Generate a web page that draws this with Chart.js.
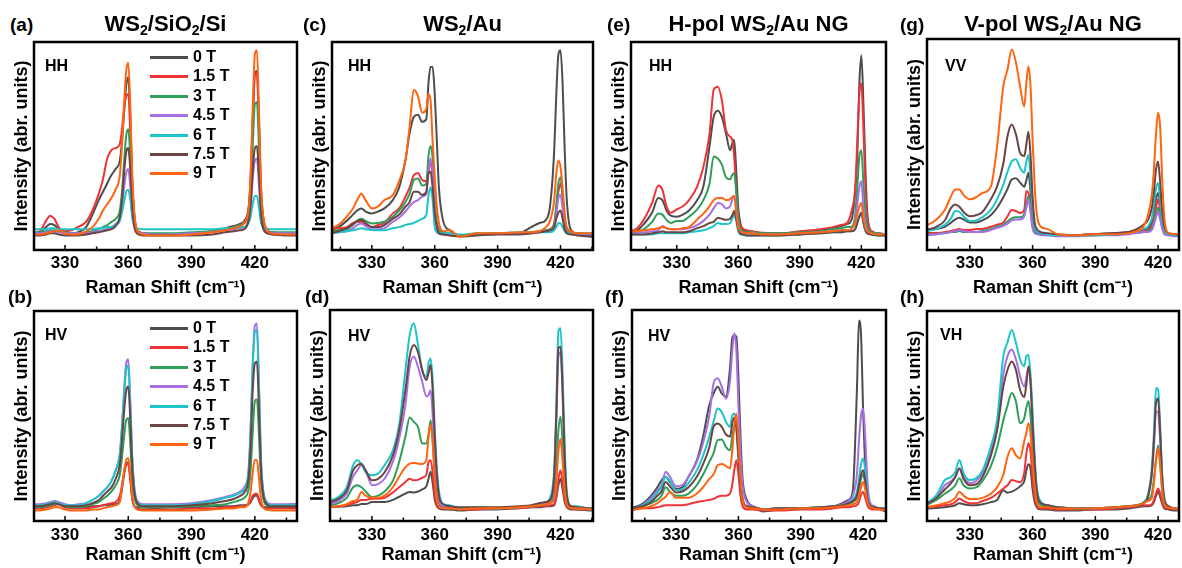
<!DOCTYPE html>
<html>
<head>
<meta charset="utf-8">
<script src="https://cdn.jsdelivr.net/npm/chart.js@4.4.1/dist/chart.umd.min.js"></script>
<style>
  body { margin: 0; width: 1182px; height: 568px; position: relative; overflow: hidden; background: #fff;
         font-family: 'Liberation Sans', Arial, sans-serif; font-weight: bold; color: #000; }
  .abs { position: absolute; white-space: nowrap; }
  .title { font-size: 22px; line-height: 22px; transform: translateX(-50%); }
  .title sub { font-size: 14px; vertical-align: -4px; line-height: 0; }
  .tag { font-size: 19px; line-height: 19px; }
  .pol { font-size: 16px; line-height: 16px; }
  .leg { position: absolute; height: 20px; display: flex; align-items: center; font-size: 16px; line-height: 20px; }
  .leg span { display: inline-block; width: 38px; height: 3px; margin-right: 5px; }
</style>
</head>
<body>
<script>
// Raman shift grid (cm-1) shared by every spectrum
const ramanShift = [306, 310, 314, 318, 321, 323, 325, 327, 330, 333,
  336, 340, 343, 346, 348, 350, 352, 354, 356, 357, 358,
  359, 360, 361, 362, 364, 367, 372, 380, 390, 400, 406,
  410, 413, 415, 417, 418, 419, 420, 421, 422, 423, 425, 428, 435, 444];

const fields = ['0 T', '1.5 T', '3 T', '4.5 T', '6 T', '7.5 T', '9 T'];
const fieldColors = ['#4d4d4d', '#ee3338', '#2f9e5a', '#a66fe6', '#1dc5c8', '#6b4444', '#ff6410'];
const shiftTicks = [330, 360, 390, 420];

// intensities (abr. units), one row per field, order as in `fields`
const siHH = [
  [8, 8, 8, 8.5, 11, 12.5, 12, 10, 8.5, 8, 8.5, 11, 17, 24, 28, 32, 36, 39, 43, 52, 66, 79, 83, 62, 30, 10, 8, 7.5, 7.5, 8, 9, 10.5, 11.5, 12.5, 14, 20, 34, 62, 85, 86, 60, 28, 11, 8.5, 8, 8],
  [8, 8, 8, 9, 14, 16.5, 15, 11, 9, 9.5, 11, 13.5, 19, 27, 34, 44, 48, 49, 51, 58, 68, 74, 75, 55, 28, 10, 8, 7.5, 7.5, 8, 9, 10, 11, 12, 13.5, 19, 32, 60, 84, 85, 58, 26, 11, 8.5, 8, 8],
  [8.5, 8.5, 8.5, 8.5, 9, 9.5, 9.5, 9, 8.5, 8, 8, 8.5, 9, 10, 11, 12, 13.5, 15, 19, 28, 42, 55, 58, 44, 22, 9, 8, 8, 8, 8.5, 9, 10, 11, 12, 13, 17, 27, 50, 70, 71, 48, 22, 10, 8.5, 8.5, 8.5],
  [8, 8, 8, 8, 8.5, 9, 9, 8.5, 8, 8, 8, 8, 8.5, 9, 9.5, 10, 11, 12.5, 15, 21, 30, 37, 39, 30, 16, 8.5, 8, 7.5, 7.5, 8, 8.5, 9.5, 10, 10.5, 11, 14, 20, 34, 43, 44, 31, 15, 9, 8, 8, 8],
  [10, 10, 10, 10, 10, 10.5, 10.5, 10, 10, 10, 10, 10, 10, 10.5, 10.5, 11, 11, 12, 14, 18, 23, 28, 29, 24, 15, 10.5, 10, 10, 10, 10, 10, 10.5, 10.5, 11, 11, 13, 16, 22, 26, 26, 20, 13, 10.5, 10, 10, 10],
  [7, 7, 7, 7, 7.5, 8, 8, 7.5, 7, 7, 7, 7.5, 8, 8.5, 9, 9.5, 10, 11.5, 16, 24, 37, 47, 49, 38, 19, 8, 7, 7, 7, 7, 7.5, 8.5, 9, 9.5, 10, 14, 22, 38, 49, 50, 35, 17, 8.5, 7.5, 7, 7],
  [7.5, 7.5, 7.5, 7.5, 8, 8.5, 9, 9.5, 8, 7.5, 7.5, 9, 11, 15, 19, 22, 25, 29, 36, 50, 70, 86, 90, 68, 33, 10, 7.5, 7, 7, 7.5, 8.5, 9.5, 10.5, 11.5, 13, 19, 36, 68, 94, 96, 66, 30, 11, 8, 7.5, 7.5]
];
const siHV = [
  [6.5, 6.5, 6.5, 6.5, 7, 7.5, 8, 8.5, 7, 6.5, 6.5, 6.5, 7, 7, 7.5, 7.5, 8, 8, 10, 15, 22, 27, 28, 20, 10, 6.5, 6.5, 6, 6.5, 6.5, 7, 7, 7, 7.5, 7.5, 8, 9, 11, 12, 12, 9.5, 7.5, 6.5, 6.5, 6.5, 6.5],
  [6, 6, 6, 6, 6.5, 7, 7.5, 8, 6.5, 6, 6, 6, 6.5, 7, 7.5, 8, 8.5, 9, 12, 17, 23, 27, 27, 19, 10, 6, 5.5, 5.5, 5.5, 6, 6, 6.5, 6.5, 7, 7, 8, 9.5, 12, 13, 13, 10, 7.5, 6, 6, 6, 6],
  [6.5, 6.5, 6.5, 6.5, 7, 7.5, 8, 8.5, 7, 6.5, 6.5, 7, 8, 9, 10.5, 12, 14, 17, 22, 30, 40, 48, 49, 36, 18, 8, 6.5, 6.5, 6.5, 7, 7.5, 8, 9, 10, 11, 15, 24, 42, 57, 58, 40, 19, 8, 7, 7, 7.5],
  [8, 8, 8, 8, 8.5, 9, 9.5, 9, 8, 7.5, 8, 8.5, 10, 12, 14, 16, 19, 24, 32, 45, 62, 75, 77, 56, 28, 10, 8, 8, 8, 8.5, 10, 11.5, 12.5, 14, 16, 24, 44, 75, 93, 94, 64, 28, 10, 8, 8, 8.5],
  [7.5, 7.5, 7.5, 7.5, 8, 8.5, 9, 8.5, 7.5, 7.5, 7.5, 8.5, 10, 12, 14, 16, 19, 24, 32, 44, 60, 72, 74, 54, 27, 9.5, 7.5, 7.5, 7.5, 8, 9.5, 11, 12, 13.5, 15, 23, 42, 73, 90, 91, 62, 27, 9.5, 7.5, 7.5, 8],
  [7, 7, 7, 7, 7.5, 8, 8.5, 8, 7, 7, 7, 7.5, 8.5, 10, 12, 14, 16, 20, 27, 38, 52, 62, 64, 47, 23, 9, 7, 7, 7, 7.5, 8.5, 9.5, 10.5, 12, 13.5, 20, 36, 62, 75, 76, 52, 23, 9, 7, 7, 7],
  [5, 5, 5, 5, 5.5, 6, 6.5, 6.5, 5.5, 5, 5, 5, 5.5, 5.5, 6, 6.5, 7, 7.5, 9, 16, 24, 29, 30, 22, 11, 5.5, 5, 5, 5, 5, 5.5, 6, 6, 6.5, 6.5, 9, 14, 23, 29, 29, 20, 10, 5.5, 5, 5, 5]
];
const auHH = [
  [9, 9.6, 11, 14, 17, 19, 20, 18.5, 17.6, 18.5, 20, 24, 30, 43, 56, 64, 65, 61.6, 63, 80, 88, 88, 75, 53, 30, 14, 9.6, 7, 7.5, 8, 8, 11, 13, 14.4, 21, 48, 75, 94, 96, 80, 48, 24, 9.6, 8, 6.4, 6],
  [9, 9.6, 10.5, 11, 13, 13.5, 13.6, 12.5, 11, 12, 13, 17.6, 20, 25.6, 30, 36, 37, 33.6, 33, 37, 43, 35, 21, 13, 10, 8.5, 8, 7, 7.5, 8, 8, 8.5, 9, 9.5, 10, 13, 20, 28, 32, 26, 15, 10, 8.5, 8, 7.5, 7.5],
  [8.5, 8.8, 9.5, 10, 12, 14, 15, 14, 12.8, 13, 13.6, 16, 19, 23, 27, 33.6, 34.4, 31, 32, 45, 50, 44, 24, 13, 9.5, 8, 7.5, 7, 7.5, 8, 8, 8.5, 9, 9.5, 10, 12, 22, 32, 35, 26, 14, 9, 8, 7.5, 7.5, 7.5],
  [7.5, 8, 8.5, 9, 10.5, 12, 12.8, 11.5, 10, 10, 10.5, 13.6, 15.5, 18.5, 21, 23, 24, 25.6, 27, 38, 44, 37, 20, 11, 8, 7.5, 7.5, 7, 7.5, 8, 8, 8, 8.5, 9, 9.5, 11, 17, 25, 26.4, 20, 11, 8.5, 8, 7.5, 7.5, 7.5],
  [7.5, 8, 8.5, 9, 9.5, 10, 10.4, 10, 9.6, 9.5, 9.5, 10.5, 11, 12, 12.5, 13, 14, 15, 17, 26, 30, 24, 11, 8.5, 8, 8, 8, 7.5, 8, 8, 8.5, 8.5, 8.5, 8.5, 8.5, 9.5, 11, 13, 12.8, 11, 9, 8, 8, 8, 8, 8],
  [7.5, 8, 9, 10.5, 12.5, 14, 14.4, 13, 11, 11, 12, 15, 17, 20.8, 23, 28, 28, 26.4, 28, 37, 37.6, 30, 17.6, 11, 8, 7.5, 7, 6.5, 7, 7.5, 7.5, 8, 8.5, 9, 9.5, 11, 15, 18, 19, 15, 10, 8, 7.5, 7, 6.5, 6.5],
  [9.5, 10.4, 12, 16, 20, 24, 27, 24, 20, 21, 24, 26.4, 33, 43, 59, 77, 74, 66, 68, 75, 72, 52, 35, 21, 13, 9, 9.6, 6.4, 8, 8, 8.5, 8.5, 9, 11, 14, 24, 37, 43, 40, 30, 17.6, 11, 9, 8, 8, 8]
];
const auHV = [
  [6, 6.6, 6.8, 7, 7.5, 7.5, 8, 8, 9, 9, 9, 10, 11.5, 13, 13.8, 13.5, 14, 15, 16.5, 20, 23.3, 18, 10, 7, 6, 5.5, 5.5, 5, 5.5, 5.5, 6, 6.5, 6.5, 7, 7, 7.5, 11, 17, 20, 15, 9, 6.5, 5.5, 5.5, 5, 5],
  [6, 6.6, 7, 7.5, 8.5, 9, 10, 10, 10.6, 10.5, 11, 13.5, 16, 18.5, 20, 19.3, 19.5, 20.5, 22, 28, 28.8, 23, 12, 7.5, 6.5, 6, 6, 5.5, 5.5, 6, 6, 6.5, 7, 7, 7.5, 8, 12, 20, 24, 18, 10, 7, 6, 5.5, 5.5, 5.5],
  [7, 7.4, 8.5, 11, 16, 17, 16, 14, 11.4, 12, 14, 19, 28, 40, 49, 47, 44.6, 36.7, 36.7, 41, 47.8, 38, 22, 12, 8, 6.5, 6.5, 6, 6.5, 6, 6.5, 7, 7.5, 8, 9, 12, 25, 43, 49.4, 37, 18, 9, 6.5, 6, 5.5, 5.5],
  [7.5, 8, 9.5, 13, 21, 24, 26.4, 24, 17, 17.5, 20, 28, 39, 55, 73, 78, 73, 66, 59, 59.7, 62, 50, 30, 17, 10, 7, 6.5, 6, 6, 6, 6.5, 7, 8, 8.5, 9.5, 20, 48, 78, 80, 60, 28, 11, 6.5, 6, 5.5, 5.5],
  [9, 9.8, 11.4, 16, 26.4, 28.8, 27, 23, 21.7, 22.5, 26.4, 33.5, 45.4, 71.5, 88, 93.7, 83.4, 71.5, 68.4, 74.7, 77, 66.8, 43, 25, 14, 8, 7.5, 6, 6.5, 6, 6.5, 7, 8, 9, 11, 25, 55, 89.7, 91.3, 70, 35, 14, 7, 7, 5.5, 5.5],
  [8, 9, 10.5, 14.5, 24, 26.4, 27, 24, 19.3, 20, 23, 31, 43, 62, 78, 83.4, 80, 71.5, 66.8, 70, 74, 62, 40, 22, 12, 8, 7, 6.5, 6.5, 6.5, 7, 7.5, 8.5, 9, 10, 22, 50, 82, 82.6, 62, 30, 12, 7, 6.5, 6, 6],
  [6, 6.6, 7, 8, 9.5, 10, 13.8, 12, 11, 11, 12, 16, 21, 25.5, 27.2, 27.5, 27.2, 27, 29, 40, 46, 37, 20, 10, 7, 6, 6, 5.5, 6, 6, 6.5, 7, 7.5, 8, 8.5, 10, 18, 33, 39, 28, 14, 8, 6, 6, 5.5, 5.5]
];
const hpolHH = [
  [8.5, 9, 12.5, 18, 25, 24, 19, 16.5, 16, 17, 19, 24, 30.6, 50, 64, 67, 64, 56, 48, 51, 53, 38, 20, 13, 10, 9, 8.5, 8, 8, 8.5, 9.5, 10.5, 11.5, 12.5, 14, 28, 45, 80, 93.6, 70, 38, 16, 9, 8, 7, 7],
  [9, 10, 14.7, 22.6, 31, 29, 21, 17.9, 19.5, 21, 24, 30.6, 40, 56, 77, 78.5, 72, 57.7, 54.5, 53, 45, 29, 16, 12, 10.5, 9.5, 9, 8.3, 8, 9, 10, 11, 12, 13, 18, 30, 52, 75, 80, 58, 30, 15, 9, 8, 7.5, 7.5],
  [8, 8.3, 10, 13.5, 17.5, 17, 14.5, 13, 13.9, 14, 16, 19.5, 24, 32, 45, 44, 41, 35, 34, 36, 37, 28, 15, 10, 9, 8.5, 8.5, 8, 8, 8.5, 9, 10, 10.5, 11, 11, 17, 30, 45, 48, 32, 18, 11, 8.5, 8, 7.5, 7.5],
  [8, 8.3, 8.5, 9, 9.5, 11.5, 10.5, 10, 10, 10, 10.5, 12, 14, 17, 20, 22.6, 22, 20, 21, 24, 26, 20, 11, 9, 8.5, 8, 8, 7.5, 7.5, 8, 8.5, 9, 9.5, 9.5, 10, 14, 22, 30, 33, 20, 12, 9, 8, 7.5, 7.5, 7.5],
  [7.5, 7.5, 7.5, 7.5, 8, 8, 8, 8, 8, 8, 8.5, 9, 9.5, 10.5, 11.5, 13, 12.5, 12.5, 13, 15, 17, 14, 9, 7.5, 7.5, 7, 7, 7, 7, 7.5, 8, 8.5, 8.5, 9, 9, 10, 13, 16, 18, 13, 9, 8, 7.5, 7, 7, 7],
  [7.5, 7.5, 7.5, 8, 8.5, 9, 8.5, 8.5, 8.5, 8.5, 9, 10.5, 11.5, 13, 13.5, 15.5, 15, 14.5, 15, 16.5, 18.7, 15, 10, 8, 7.5, 7, 7, 7, 7, 7.5, 8, 8.5, 8.5, 9, 9, 10, 13, 16, 17.9, 13, 9.5, 8, 7.5, 7, 7, 7],
  [8.5, 9, 9.5, 10, 10.5, 11, 10.5, 10, 10, 10.5, 11, 14.7, 17.5, 21, 24, 25, 25, 24, 24.5, 25.5, 26, 18, 11, 9, 8.5, 8, 8, 7.5, 7.5, 8, 8.5, 9, 9.5, 9.5, 10, 13, 17, 21, 22.6, 15, 10.5, 9, 8, 7.5, 7.5, 7.5]
];
const hpolHV = [
  [6, 6.6, 8.2, 12, 16, 19.3, 21, 18.5, 15.3, 16, 21, 28.8, 40, 55, 60.4, 63.6, 60.4, 59, 73, 86.5, 88, 87.3, 68, 40, 20, 10, 7, 4.5, 5.5, 6, 6, 7, 8.5, 10, 14, 62, 95, 88, 52, 25, 12, 8, 7, 5.5, 4, 4.5],
  [5, 5.5, 6, 6, 6.5, 7, 7.5, 7.5, 7.5, 7.5, 8, 9, 9.5, 10, 10.5, 11.5, 12, 12, 13, 17, 24, 28.8, 22, 12, 7, 5.5, 5.5, 5, 5, 5.5, 5.5, 6, 6.5, 6.5, 7, 7.5, 9, 12.5, 13.8, 11, 7.5, 6, 5.5, 5.5, 5, 5],
  [5.5, 6, 7, 8.5, 10, 12, 16, 14, 12, 12, 13, 17, 22, 28, 32, 38.3, 38.6, 35, 33.5, 40, 45, 47, 40, 22, 11, 7, 6.5, 5.5, 6, 6, 6.5, 7, 7.5, 8, 9, 11, 15, 20, 22, 18, 10.5, 7.5, 6.5, 6, 5.5, 5.5],
  [5.5, 5.9, 7.5, 11, 14.5, 17, 23.3, 21, 16.5, 17, 21, 28, 37, 50, 65, 67.6, 63.6, 58, 66.8, 80, 89, 81, 55, 32, 17, 9, 7, 5.5, 6, 6, 6.5, 7, 8, 9.5, 12, 22, 38, 50, 53.3, 40, 20, 10, 7, 6, 5.5, 5.5],
  [5.5, 5.9, 7.5, 10, 13.5, 16, 21, 19, 14.5, 15, 18, 24, 31, 40, 47, 53.3, 51.7, 47, 44.6, 50, 51, 45, 30, 17, 10, 7, 6.5, 5.5, 6, 6, 6.5, 7, 7.5, 8.5, 10, 14, 20, 27, 29.6, 24, 13, 8, 6.5, 6, 5.5, 5.5],
  [5.5, 6, 7, 9, 12, 14, 18.5, 16.5, 13.5, 14, 16, 21, 27, 35, 44.6, 46.2, 44.6, 41, 40, 46, 49, 44, 30, 17, 10, 7, 6.5, 5.5, 6, 6, 6.5, 7, 7.5, 8.5, 9.5, 12, 17, 22, 24, 19, 11, 7.5, 6.5, 6, 5.5, 5.5],
  [5, 5.5, 6, 7, 8.5, 10, 11.5, 13.8, 11, 11, 11, 13, 16, 20, 22, 26.4, 27, 26, 25, 33, 45, 51, 38, 20, 10, 6.5, 6, 5.5, 5.5, 6, 6, 6.5, 7, 7.5, 8, 9, 12, 16, 18.5, 15, 9.5, 7, 6, 5.5, 5, 5]
];
const vpolVV = [
  [9, 9.8, 10, 11, 13, 14.5, 15.3, 14.5, 13, 13, 14, 16.5, 20, 25, 29, 33.4, 34, 32, 30, 33, 36.6, 28, 16, 10, 9, 8, 7.5, 7, 7, 7.5, 8, 8.5, 9, 9.5, 10, 13, 18, 24, 27, 22, 13, 9, 7.5, 7, 7, 7],
  [7.5, 8, 8, 8.5, 9, 9.5, 10, 9.5, 9.5, 10, 10, 11, 12, 13, 16, 19, 18.5, 17.5, 19, 28, 27, 20, 12, 9, 8, 7.5, 7.5, 7, 7, 7.5, 7.5, 8, 8.5, 9, 9.5, 11, 15, 20, 24, 19, 12, 8.5, 7.5, 7, 7, 7],
  [7, 7.4, 7.5, 8, 8.5, 8.5, 9, 8.5, 8.5, 8.5, 9, 10, 11, 12, 13.5, 15, 15.5, 15.5, 17, 22, 25.5, 19, 11, 8.5, 8, 7.5, 7, 7, 7, 7, 7.5, 8, 8, 8.5, 9, 10, 13, 17, 20, 16, 10.5, 8, 7, 7, 6.5, 6.5],
  [7, 7, 7.5, 8, 8.5, 9, 9.5, 9, 8.5, 8.5, 8.5, 9.5, 10.5, 11.5, 12.5, 14, 14.5, 14.5, 16, 20, 24, 18, 10, 8, 7.5, 7, 7, 6.5, 6.5, 7, 7, 7.5, 8, 8.5, 8.5, 9.5, 12, 15.5, 18, 14.5, 10, 7.5, 7, 6.5, 6.5, 6.5],
  [8.5, 9, 10, 12, 15, 18.5, 18, 16, 13.7, 14, 15.5, 19, 24, 31, 37, 42, 43, 39, 36.6, 42, 45, 35, 20, 11, 9, 8, 7.5, 7, 7, 7, 7.5, 8, 9, 10, 11, 15, 21, 29, 31.7, 24, 14, 9.5, 7.5, 7, 7, 7],
  [9, 9.8, 11, 14, 20, 21.6, 20.5, 18, 16, 16.5, 18, 24, 30, 41, 54, 59.5, 55, 46, 44.5, 50, 56, 45, 25, 13, 10, 8.5, 8, 7.5, 7, 7.5, 8, 8.5, 10, 12, 14, 20, 28, 38, 42, 32, 18, 11, 8, 7.5, 7, 7],
  [11, 12, 14.5, 19, 25.5, 28.7, 28.7, 26, 24, 25, 27, 30, 49, 77.6, 85.5, 95, 89, 77.6, 68, 79, 87, 77.6, 52, 30, 17, 11, 10, 7.5, 7, 7.5, 7.5, 8, 9, 11, 16, 26, 38, 55, 65, 58, 33, 15, 8, 7.5, 7.5, 7.5]
];
const vpolVH = [
  [5.5, 6, 6.2, 6.5, 7, 7.5, 8.5, 8, 7.5, 7.5, 8, 9, 10, 14.7, 13.5, 14, 15, 16.5, 19, 24, 27, 25, 15, 9, 6.5, 5.5, 5.5, 5, 5, 5.5, 5.5, 6, 6.5, 7, 7, 7.5, 9, 12, 14, 11.5, 8, 6, 5.5, 5, 5, 5],
  [6, 6.5, 7, 7.5, 8, 9, 10.7, 9.5, 8.5, 8.5, 9.5, 11, 13, 15.5, 17, 19.5, 19, 18.5, 23, 32, 37, 33, 20, 11, 7.5, 6, 6, 5.5, 5.5, 5.5, 6, 6.5, 7, 7.5, 7.5, 8, 10, 13, 15.5, 13, 9, 6.5, 6, 5.5, 5, 5],
  [7, 8, 10, 13, 15, 17, 20.3, 17, 15.5, 16, 19, 26, 35, 48, 55, 61, 57, 46.6, 49, 54, 57, 50, 34, 19, 11, 7.5, 7, 6.5, 6, 6, 6.5, 7, 7.5, 8.5, 10, 13, 20, 29, 36, 27, 14, 8, 6.5, 6, 5.5, 5.5],
  [7.5, 8.5, 11, 17, 19, 21, 25, 21, 18, 19, 23, 33, 45, 70, 78.5, 81.7, 77, 69, 64, 68, 73, 66, 47, 28, 15, 9, 7.5, 6.5, 6, 6, 6.5, 7, 7.5, 8.5, 11, 22, 35, 52, 52, 38, 19, 10, 7, 6, 5.5, 5.5],
  [8, 9, 12.3, 19.5, 21, 23.4, 29, 22.6, 19.5, 20.3, 24, 35.4, 48, 78.5, 85, 91, 85, 77, 73.7, 78.5, 79, 70, 51.4, 30, 16, 9, 7.5, 6.5, 6, 6, 6.5, 7, 7.5, 9, 12, 25, 42, 63.3, 62.5, 45, 22, 11, 7, 6, 5.5, 5.5],
  [7.5, 8.5, 11, 15, 18, 21, 25, 20, 17, 17.5, 21, 31, 43, 64, 72, 76, 72, 62.5, 59, 65, 73.7, 66, 46, 27, 14, 8.5, 7.5, 6.5, 6, 6, 6.5, 7, 7.5, 8.5, 11, 23, 38, 56, 58.5, 42, 20, 10, 7, 6, 5.5, 5.5],
  [6.5, 6.7, 7.5, 8.5, 9.5, 11, 13.9, 12, 10.5, 10.5, 11, 13, 16, 22, 30.6, 34.6, 31.4, 29.8, 38, 42, 46.6, 42, 28, 16, 9, 6.5, 6.5, 6, 6, 6, 6.5, 7, 7.5, 8.5, 9.5, 11, 18, 29, 34.6, 27, 14, 8, 6.5, 6, 5.5, 5.5]
];

// panel layout: plot box [left, top, right, bottom] in page px, x range
const panels = [
  { tag: '(a)', tagPos: [10, 15], title: 'WS<sub>2</sub>/SiO<sub>2</sub>/Si', pol: 'HH', polPos: [45, 58], data: siHH, box: [34, 42, 297, 250], range: [315.3, 440], legend: 47 },
  { tag: '(c)', tagPos: [303, 15], title: 'WS<sub>2</sub>/Au', pol: 'HH', polPos: [348, 58], data: auHH, box: [332, 42, 593, 250], range: [311, 435.5] },
  { tag: '(e)', tagPos: [607, 15], title: 'H-pol WS<sub>2</sub>/Au NG', pol: 'HH', polPos: [649, 58], data: hpolHH, box: [631, 42, 886, 250], range: [307.7, 432] },
  { tag: '(g)', tagPos: [900, 15], title: 'V-pol WS<sub>2</sub>/Au NG', pol: 'VV', polPos: [945, 58], data: vpolVV, box: [927, 39, 1179, 250], range: [309.5, 430] },
  { tag: '(b)', tagPos: [8, 287], pol: 'HV', polPos: [45, 327], data: siHV, box: [34, 311, 297, 521], range: [315.3, 440], legend: 318 },
  { tag: '(d)', tagPos: [305, 287], pol: 'HV', polPos: [348, 328], data: auHV, box: [330, 310, 593, 521], range: [310, 435.5] },
  { tag: '(f)', tagPos: [605, 287], pol: 'HV', polPos: [648, 328], data: hpolHV, box: [632, 310, 886, 521], range: [308.8, 431] },
  { tag: '(h)', tagPos: [900, 287], pol: 'VH', polPos: [940, 327], data: vpolVH, box: [927, 311, 1179, 521], range: [309.5, 430] }
];

const FONT = "'Liberation Sans', Arial, sans-serif";
Chart.defaults.font.family = FONT;

const frame = {
  id: 'frame',
  afterDraw(chart) {
    const { ctx, chartArea: a, scales: { x } } = chart;
    ctx.save();
    ctx.strokeStyle = '#000';
    ctx.lineWidth = 2.5;
    ctx.strokeRect(a.left, a.top, a.right - a.left, a.bottom - a.top);
    ctx.lineWidth = 1.5;
    for (let v = 315; v <= 435; v += 15) {
      if (v <= x.min || v >= x.max) continue;
      const px = x.getPixelForValue(v);
      const len = v % 30 === 0 ? 5 : 3.5;
      ctx.beginPath();
      ctx.moveTo(px, a.bottom);
      ctx.lineTo(px, a.bottom - len);
      ctx.stroke();
    }
    ctx.restore();
  }
};

function addText(cls, html, x, y) {
  const d = document.createElement('div');
  d.className = 'abs ' + cls;
  d.style.left = x + 'px';
  d.style.top = y + 'px';
  d.innerHTML = html;
  document.body.appendChild(d);
}

function addLegend(x, y) {
  fields.forEach((f, i) => {
    const row = document.createElement('div');
    row.className = 'leg';
    row.style.left = x + 'px';
    row.style.top = Math.round(y + i * 19.4) + 'px';
    row.innerHTML = '<span style="background:' + fieldColors[i] + '"></span>' + f;
    document.body.appendChild(row);
  });
}

panels.forEach((p, n) => {
  const [l, t, r, b] = p.box;
  const top = n < 4;
  const xH = top ? 49 : 45;
  const yW = 23;

  const wrap = document.createElement('div');
  wrap.className = 'abs';
  wrap.style.left = (l - yW) + 'px';
  wrap.style.top = (t - 2) + 'px';
  const cv = document.createElement('canvas');
  cv.width = r - l + yW + 2;
  cv.height = b - t + 2 + xH;
  wrap.appendChild(cv);
  document.body.appendChild(wrap);

  new Chart(cv, {
    type: 'line',
    data: {
      datasets: fields.map((f, i) => ({
        label: f,
        data: ramanShift.map((x, k) => ({ x: x, y: p.data[i][k] })),
        borderColor: fieldColors[i],
        borderWidth: 2,
        pointRadius: 0,
        cubicInterpolationMode: 'monotone',
        order: fields.length - i
      }))
    },
    options: {
      responsive: false,
      animation: false,
      devicePixelRatio: 1,
      layout: { padding: { top: 2, right: 2, left: 0, bottom: 0 } },
      plugins: { legend: { display: false }, tooltip: { enabled: false } },
      scales: {
        x: {
          type: 'linear',
          min: p.range[0],
          max: p.range[1],
          afterBuildTicks: s => { s.ticks = shiftTicks.map(v => ({ value: v })); },
          afterFit: s => { s.height = xH; },
          grid: { display: false, drawTicks: false },
          border: { display: false },
          ticks: { color: '#000', autoSkip: false, maxRotation: 0, padding: top ? 3 : 4,
                   font: { size: 17, weight: 'bold' } },
          title: { display: true, text: 'Raman Shift (cm\u207B\u00B9)', color: '#000', padding: 0,
                   font: { size: 18, weight: 'bold' } }
        },
        y: {
          min: 0,
          max: 100,
          afterFit: s => { s.width = yW; },
          grid: { display: false, drawTicks: false },
          border: { display: false },
          ticks: { display: false },
          title: { display: true, text: 'Intensity (abr. units)', color: '#000', padding: 0,
                   font: { size: 18, weight: 'bold' } }
        }
      }
    },
    plugins: [frame]
  });

  addText('tag', p.tag, p.tagPos[0], p.tagPos[1]);
  addText('pol', p.pol, p.polPos[0], p.polPos[1]);
  if (p.title) addText('title', p.title, (l + r) / 2, 13);
  if (p.legend) addLegend(150, p.legend);
});
</script>
</body>
</html>
